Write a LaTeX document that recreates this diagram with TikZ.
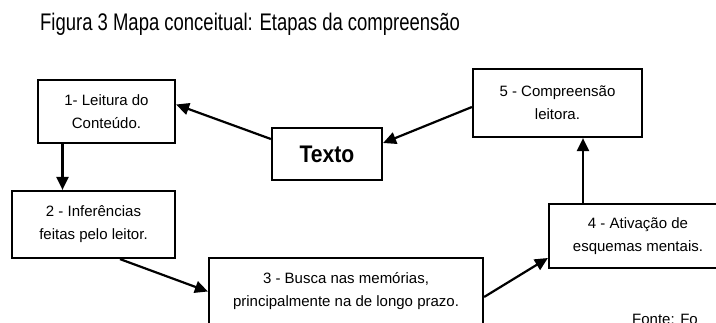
\documentclass[tikz,border=0pt]{standalone}
\usepackage{fontspec}
\setmainfont{Liberation Sans}
\newfontfamily\titulofont{Liberation Sans}[FakeStretch=0.77]
\newfontfamily\textofont{Liberation Sans}[FakeStretch=0.88]
\usetikzlibrary{arrows.meta}

\tikzset{
	caixa/.style={draw, line width=2.2pt, inner sep=0pt, align=center,
		font=\fontsize{15}{23}\selectfont},
	seta/.style={-{Triangle[length=13pt,width=12pt]}, line width=2.2pt}
}

\begin{document}
\begin{tikzpicture}[x=1pt, y=-1pt]
		\useasboundingbox (0,0) rectangle (716,322);
		\clip (0,0) rectangle (716,322);
		
		\node[anchor=base west, inner sep=0pt, font=\titulofont\fontsize{24}{28}\selectfont] (titulo) at (40,30) {Figura 3 Mapa conceitual: Etapas da compreensão};
		
		\node[caixa, minimum width=137pt, minimum height=63pt] (leitura) at (106.5,111.5) {1- Leitura do\\Conteúdo.};
		\node[caixa, minimum width=163pt, minimum height=67pt] (inferencias) at (93.5,224.5) {2 - Inferências\\feitas pelo leitor.};
		\node[caixa, minimum width=274pt, minimum height=67pt] (busca) at (346,291.5) {3 - Busca nas memórias,\\principalmente na de longo prazo.};
		\node[caixa, minimum width=178pt, minimum height=64pt] (ativacao) at (638,236) {4 - Ativação de\\esquemas mentais.};
		\node[caixa, minimum width=169pt, minimum height=68pt] (compreensao) at (557.5,103) {5 - Compreensão\\leitora.};
		\node[caixa, minimum width=110pt, minimum height=52pt, font=\textofont\bfseries\fontsize{24}{28}\selectfont] (texto) at (327,154) {Texto};
		
		\node[anchor=base west, inner sep=0pt, font=\fontsize{15}{18}\selectfont] (fonte) at (632,324) {Fonte: Fo};
		
		\draw[seta] ([yshift=15pt]texto.west) -- ([yshift=7pt]leitura.east);
		\draw[seta] ([yshift=-4pt]compreensao.west) -- ([yshift=11pt]texto.east);
		\draw[seta] ([xshift=-44pt]leitura.south) -- ([xshift=-44pt]leitura.south |- inferencias.north);
		\draw[seta] ([xshift=26.5pt]inferencias.south) -- (busca.west);
		\draw[seta] ([yshift=-5.5pt]busca.east) -- ([yshift=-22pt]ativacao.west);
		\draw[seta] ([xshift=25.5pt]compreensao.south |- ativacao.north) -- ([xshift=25.5pt]compreensao.south);
\end{tikzpicture}
\end{document}
